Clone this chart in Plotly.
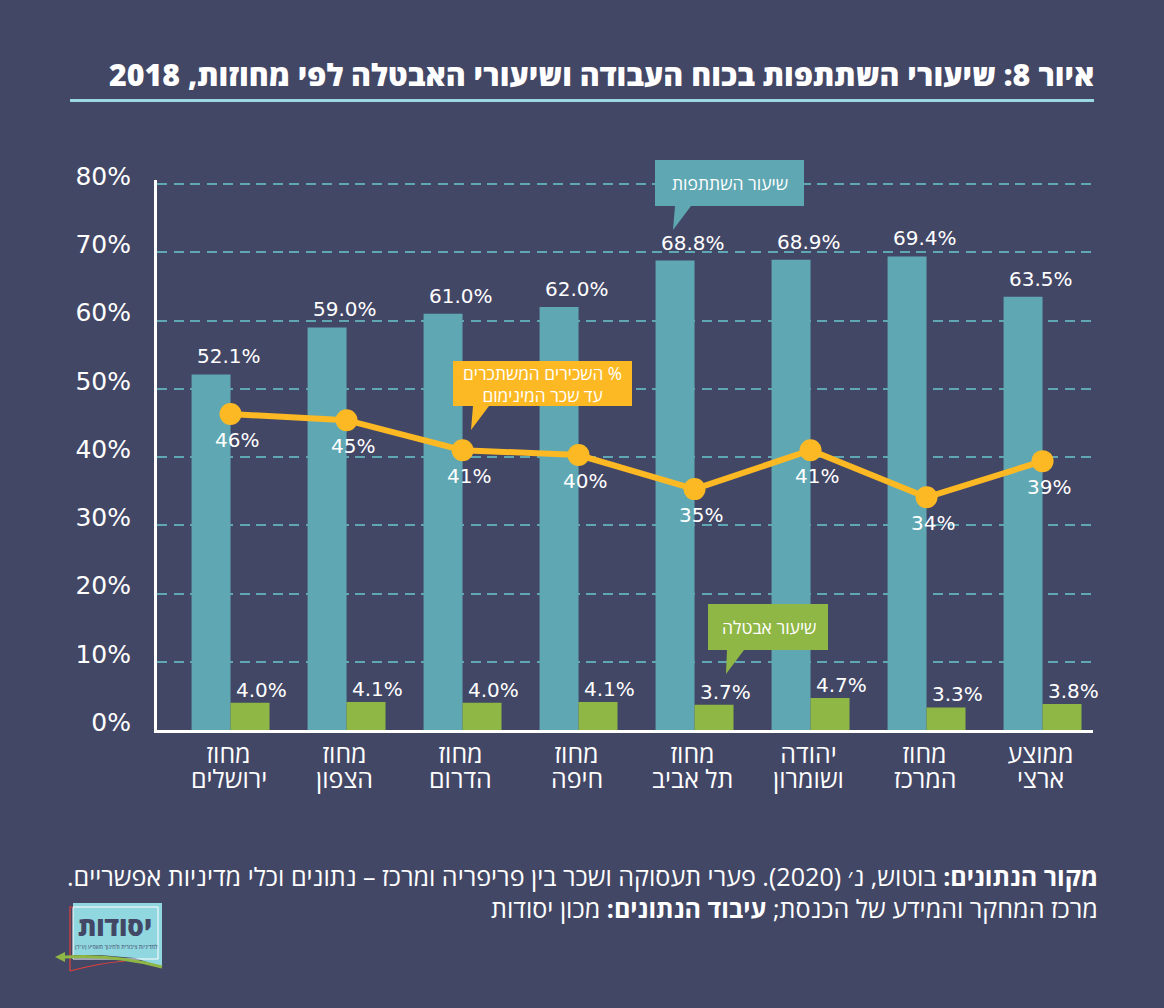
import plotly.graph_objects as go

regions = ["מחוז ירושלים", "מחוז הצפון", "מחוז הדרום", "מחוז חיפה", "מחוז תל אביב", "יהודה ושומרון", "מחוז המרכז", "ממוצע ארצי"]
region_top = ["מחוז", "מחוז", "מחוז", "מחוז", "מחוז", "יהודה", "מחוז", "ממוצע"]
region_bottom = ["ירושלים", "הצפון", "הדרום", "חיפה", "תל אביב", "ושומרון", "המרכז", "ארצי"]
participation = [52.1, 59.0, 61.0, 62.0, 68.8, 68.9, 69.4, 63.5]
unemployment = [4.0, 4.1, 4.0, 4.1, 3.7, 4.7, 3.3, 3.8]
min_wage = [46.3, 45.4, 41.0, 40.3, 35.3, 41.0, 34.1, 39.4]
y_ticks = [0, 10, 20, 30, 40, 50, 60, 70, 80]
y_labels = ["0%", "10%", "20%", "30%", "40%", "50%", "60%", "70%", "80%"]

BG = "#434766"
TEAL = "#5fa8b3"
GREEN = "#8fb746"
YELLOW = "#fdb924"
CALL_TEAL = "#5ea7b3"
FONT = "DejaVu Sans"
HEB = "Open Sans"
W, H = 1164, 1008
L, R, T, B = 157, 1093, 180, 730

def px(x):
    return (x - L) / (R - L)

def py(y):
    return (B - y) / (B - T)

def path(points, close=True):
    s = "M " + " L ".join(f"{px(x):.5f},{py(y):.5f}" for x, y in points)
    return s + (" Z" if close else "")

def poly(points, fill, line=None, width=0):
    return dict(type="path", xref="paper", yref="paper", path=path(points, True),
                fillcolor=fill, line=dict(color=line or fill, width=width), layer="above")

def note(x, y, text, size, color="white", xanchor="center", yanchor="middle", weight=None):
    f = dict(size=size, color=color, family=HEB)
    if weight:
        f["weight"] = weight
    return dict(xref="paper", yref="paper", x=px(x), y=py(y), text=text, showarrow=False,
                xanchor=xanchor, yanchor=yanchor, align="right" if xanchor == "right" else "center",
                font=f)

def curve(a, c, b, color=None, width=1.5):
    p = (f"M {px(a[0]):.5f},{py(a[1]):.5f} Q {px(c[0]):.5f},{py(c[1]):.5f} {px(b[0]):.5f},{py(b[1]):.5f}")
    return dict(type="path", xref="paper", yref="paper", path=p, line=dict(color=color, width=width), layer="above")

fig = go.Figure()
fig.add_bar(x=regions, y=participation, marker=dict(color=TEAL, line_width=0), name="participation", showlegend=False)
fig.add_bar(x=regions, y=unemployment, marker=dict(color=GREEN, line_width=0), name="unemployment", showlegend=False)
fig.add_scatter(x=regions, y=min_wage, mode="lines+markers", line=dict(color=YELLOW, width=6),
                marker=dict(color=YELLOW, size=22), showlegend=False)

annotations = []
for r, p, u, m, low in zip(regions, participation, unemployment, min_wage, region_bottom):
    annotations.append(dict(x=r, y=p, xref="x", yref="y", text=f"{p:.1f}%", showarrow=False, xshift=-2, yshift=4,
                            yanchor="bottom", font=dict(size=20, color="white", family=FONT)))
    annotations.append(dict(x=r, y=u, xref="x", yref="y", text=f"{u:.1f}%", showarrow=False, xshift=31, yshift=-1,
                            yanchor="bottom", font=dict(size=20, color="white", family=FONT)))
    annotations.append(dict(x=r, y=m, xref="x", yref="y", text=f"{m:.0f}%", showarrow=False, xshift=6, yshift=-12,
                            yanchor="top", font=dict(size=20, color="white", family=FONT)))
    annotations.append(dict(x=r, y=py(778), xref="x", yref="paper", text=low, showarrow=False, xshift=-2,
                            yanchor="middle", font=dict(size=25, color="white", family=HEB)))

annotations += [
    note(1096, 74, "איור 8: שיעורי השתתפות בכוח העבודה ושיעורי האבטלה לפי מחוזות, 2018", 30.3, xanchor="right", weight=800),
    note(730, 183, "שיעור השתתפות", 17.5),
    note(769, 627, "שיעור אבטלה", 17.5),
    note(542, 384, "\u200f% השכירים המשתכרים<br>עד שכר המינימום", 17.3),
    note(1100, 876, "\u200f<b>מקור הנתונים:</b> בוטוש, נ׳ (2020). פערי תעסוקה ושכר בין פריפריה ומרכז – נתונים וכלי מדיניות אפשריים.\u200f", 25.1, xanchor="right"),
    note(1100, 908, "\u200fמרכז המחקר והמידע של הכנסת; <b>עיבוד הנתונים:</b> מכון יסודות", 25.1, xanchor="right"),
    note(115, 926, "יסודות", 26, color=BG, weight=800),
    note(116, 947, "למדיניות ציבורית ולחינוך משפיע (ע\"ר)", 5.5, color=BG),
]

shapes = [
    dict(type="line", xref="paper", yref="paper", x0=px(70), x1=px(1094), y0=py(100.5), y1=py(100.5),
         line=dict(color="#9ad9e3", width=3), layer="above"),
    poly([(655, 160), (804, 160), (804, 206), (691, 206), (673, 230), (675, 206), (655, 206)], CALL_TEAL),
    poly([(708, 604), (828, 604), (828, 650), (744, 650), (726, 674), (727, 650), (708, 650)], GREEN),
    poly([(453, 361), (632, 361), (632, 406), (489, 406), (471, 430), (473, 406), (453, 406)], YELLOW),
    # logo
    poly([(73, 903), (162, 903), (162, 967), (135, 958), (100, 955), (73, 955)], "#90d7e0"),
    dict(type="rect", xref="paper", yref="paper", x0=px(73), x1=px(158), y0=py(907), y1=py(959),
         line=dict(color="white", width=1), layer="above"),
    dict(type="path", xref="paper", yref="paper", path=path([(73, 907), (70, 907), (70, 971)], False),
         line=dict(color="#e0413a", width=1.2), layer="above"),
    curve((70, 971), (100, 963), (125, 961), color="#e0413a", width=1.2),
    curve((162, 967), (115, 954), (65, 957), color=GREEN, width=3),
    poly([(55, 957), (65, 952), (65, 962)], GREEN),
]

fig.update_layout(
    width=W, height=H, autosize=False,
    margin=dict(l=L, r=W - R, t=T, b=H - B, pad=0),
    paper_bgcolor=BG, plot_bgcolor=BG,
    barmode="group", bargap=0.328, bargroupgap=0,
    font=dict(family=FONT, color="white"),
    annotations=annotations, shapes=shapes, showlegend=False,
    xaxis=dict(type="category", range=[-0.634, 7.435], showgrid=False, zeroline=False,
               showline=True, linecolor="white", linewidth=3, ticks="", ticklen=0,
               tickmode="array", tickvals=regions, ticktext=region_top, ticklabelshift=-2,
               tickfont=dict(size=25, color="white", family=HEB)),
    yaxis=dict(range=[0, 80.6], tickvals=y_ticks, ticktext=y_labels, showgrid=True,
               gridcolor=TEAL, griddash="10px,6.5px", gridwidth=1.5, zeroline=False,
               showline=True, linecolor="white", linewidth=3, ticks="outside", ticklen=18, tickcolor=BG, tickwidth=0,
               ticklabelshift=-8,
               tickfont=dict(size=25, color="white", family=FONT)),
)
fig.write_html("out.html", config=dict(displayModeBar=False),
               post_script="document.body.style.margin='0';document.body.style.background='#434766';")
